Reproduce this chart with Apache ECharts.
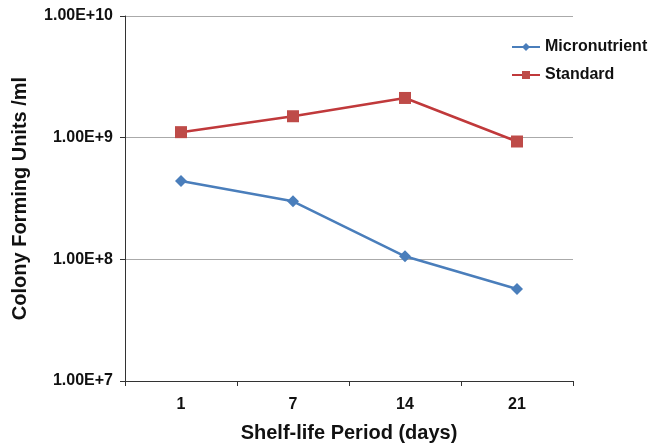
<!DOCTYPE html>
<html>
<head>
<meta charset="utf-8">
<script src="https://cdn.jsdelivr.net/npm/echarts@6/dist/echarts.min.js"></script>
<style>
  html, body { margin: 0; padding: 0; background: #fff; }
  #chart { width: 651px; height: 447px; }
</style>
</head>
<body>
<div id="chart"></div>
<script>
const days = ['1', '7', '14', '21']
const micronutrient = [4.4e8, 3.0e8, 1.06e8, 5.7e7]
const standard = [1.11e9, 1.5e9, 2.12e9, 9.3e8]

const chart = echarts.init(document.getElementById('chart'))

const font = 'Liberation Sans, Arial, sans-serif'

const option = {
  animation: false,
  textStyle: { fontFamily: font },
  grid: {
    left: 125,
    right: 78,
    top: 16,
    bottom: 66,
    outerBoundsMode: 'none'
  },
  legend: {
    orient: 'vertical',
    left: 511,
    top: 39,
    padding: 0,
    itemGap: 12,
    itemWidth: 28,
    itemHeight: 10,
    textStyle: {
      fontFamily: font,
      fontSize: 16,
      fontWeight: 'bold',
      color: '#111'
    },
    data: ['Micronutrient', 'Standard']
  },
  xAxis: {
    type: 'category',
    data: days,
    boundaryGap: true,
    name: 'Shelf-life Period (days)',
    nameLocation: 'middle',
    nameGap: 42,
    nameTextStyle: { fontSize: 20, fontWeight: 'bold', color: '#111' },
    axisLine: { lineStyle: { color: '#333', width: 1 } },
    axisTick: { show: true, length: 5, lineStyle: { color: '#333' } },
    axisLabel: { fontSize: 16, fontWeight: 'bold', color: '#111', margin: 16 }
  },
  yAxis: {
    type: 'log',
    logBase: 10,
    min: 1e7,
    max: 1e10,
    name: 'Colony Forming Units /ml',
    nameLocation: 'middle',
    nameGap: 95,
    nameTextStyle: { fontSize: 20, fontWeight: 'bold', color: '#111' },
    axisLine: { show: true, lineStyle: { color: '#333', width: 1 } },
    axisTick: { show: true, length: 5, lineStyle: { color: '#333' } },
    axisLabel: {
      fontSize: 16,
      fontWeight: 'bold',
      color: '#111',
      margin: 12,
      formatter: v => Number(v).toExponential(2).toUpperCase()
    },
    splitLine: { lineStyle: { color: '#aaa', width: 1 } }
  },
  series: [
    {
      name: 'Micronutrient',
      type: 'line',
      data: micronutrient,
      symbol: 'diamond',
      symbolSize: 12,
      itemStyle: { color: '#4a7ebb' },
      lineStyle: { color: '#4a7ebb', width: 2.5 }
    },
    {
      name: 'Standard',
      type: 'line',
      data: standard,
      symbol: 'rect',
      symbolSize: 12,
      itemStyle: { color: '#be4b48' },
      lineStyle: { color: '#c0393b', width: 2.5 }
    }
  ]
}

chart.setOption(option)
window.addEventListener('resize', () => chart.resize())
</script>
</body>
</html>
